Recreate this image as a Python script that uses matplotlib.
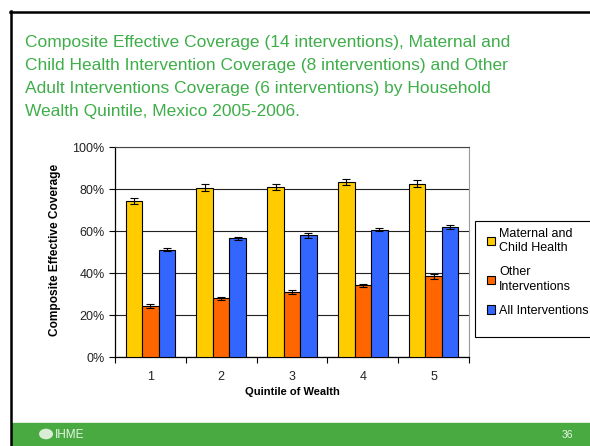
import numpy as np
import matplotlib
matplotlib.use("Agg")
import matplotlib.pyplot as plt
from matplotlib.patches import Rectangle, Circle
from matplotlib.transforms import Bbox

quintiles = ["1", "2", "3", "4", "5"]
series_names = ["Maternal and\nChild Health", "Other\nInterventions", "All Interventions"]
maternal = [74.2, 80.7, 81.1, 83.2, 82.6]
other = [24.2, 27.9, 31.1, 34.1, 38.4]
all_int = [51.0, 56.5, 58.0, 60.7, 62.0]
maternal_err = [1.5, 1.5, 1.5, 1.5, 1.6]
other_err = [0.9, 0.9, 0.9, 0.9, 1.1]
all_err = [0.7, 0.8, 1.1, 0.9, 1.0]

title = ("Composite Effective Coverage (14 interventions), Maternal and\n"
         "Child Health Intervention Coverage (8 interventions) and Other\n"
         "Adult Interventions Coverage (6 interventions) by Household\n"
         "Wealth Quintile, Mexico 2005-2006.")

plt.rcParams["font.family"] = ["Liberation Sans", "DejaVu Sans"]

W, H = 590, 446
fig = plt.figure(figsize=(W / 100, H / 100), dpi=100)
fig.patch.set_facecolor("white")


def fx(px):
    return px / W


def fy(py):
    return 1 - py / H


# slide frame and footer
fig.add_artist(plt.Line2D([fx(11), fx(11)], [0, fy(11)], color="black", lw=1.8))
fig.add_artist(plt.Line2D([fx(10), 1], [fy(12), fy(12)], color="black", lw=1.8))
fig.add_artist(Rectangle((fx(12), 0), 1, fy(423), color="#4aaa42", transform=fig.transFigure))
fig.add_artist(Circle((fx(46), fy(434)), 7 / W, transform=fig.transFigure,
                      facecolor="#d9ecd6", edgecolor="none"))
fig.text(fx(55), fy(435), "IHME", color="#e8f4e6", fontsize=8.5, va="center")
fig.text(fx(567), fy(435), "36", color="#e8f4e6", fontsize=7.5, va="center", ha="center")

fig.text(fx(25), fy(35.5), title, color="#3fae4a", fontsize=12.5, va="top",
         linespacing=1.64)

ax = fig.add_axes([fx(115), fy(357), fx(469) - fx(115), fy(147) - fy(357)])
x = np.arange(len(quintiles))
width = 0.233
colors = ["#ffcc00", "#ff6600", "#3366ff"]
values = [maternal, other, all_int]
errors = [maternal_err, other_err, all_err]
handles = []
for k, (vals, errs, col) in enumerate(zip(values, errors, colors)):
    b = ax.bar(x + (k - 1) * width, vals, width, color=col, edgecolor="black",
               linewidth=0.8, zorder=3,
               yerr=errs, error_kw=dict(ecolor="black", elinewidth=0.8, capsize=3,
                                        capthick=0.8, zorder=4))
    handles.append(b)

ax.set_xlim(-0.5, 4.5)
ax.set_ylim(0, 100)
ax.set_yticks(np.arange(0, 101, 20))
ax.set_yticklabels([f"{v}%" for v in range(0, 101, 20)], fontsize=9, color="#222222")
ax.set_xticks(x)
ax.set_xticklabels(quintiles, fontsize=9, color="#222222")
ax.tick_params(axis="x", which="major", length=0, pad=10)
ax.set_xticks(np.arange(-0.5, 4.6, 1), minor=True)
ax.tick_params(axis="x", which="minor", length=4.5, width=0.8, direction="out")
ax.tick_params(axis="y", length=4.5, width=0.8, direction="out", pad=3)
ax.grid(axis="y", color="#222222", linewidth=0.8, zorder=0)
ax.set_axisbelow(True)
for side in ["left", "bottom"]:
    ax.spines[side].set_color("black")
    ax.spines[side].set_linewidth(0.9)
ax.spines["top"].set_color("#444444")
ax.spines["right"].set_color("#999999")

xl = ax.set_xlabel("Quintile of Wealth", fontsize=8, fontweight="bold")
ax.xaxis.set_label_coords(0.5, -0.145)
yl = ax.set_ylabel("Composite Effective Coverage", fontsize=8.6, fontweight="bold")
ax.yaxis.set_label_coords(-0.152, 0.51)
yl.set_clip_box(Bbox.from_extents(0, 0, W, H - 165))
yl.set_clip_on(True)

# legend frame
fig.add_artist(Rectangle((fx(475), fy(337)), fx(600) - fx(475), fy(221) - fy(337),
                         transform=fig.transFigure, facecolor="white",
                         edgecolor="black", linewidth=0.8))
leg = fig.legend(handles, series_names, loc="upper left",
                 bbox_to_anchor=(fx(478), fy(219)), frameon=False, fontsize=9,
                 handlelength=0.65, handleheight=0.65, handletextpad=0.35,
                 labelspacing=0.95, borderpad=0.2)
for t in leg.get_texts():
    t.set_linespacing(1.3)

fig.savefig("out.png", dpi=100)
